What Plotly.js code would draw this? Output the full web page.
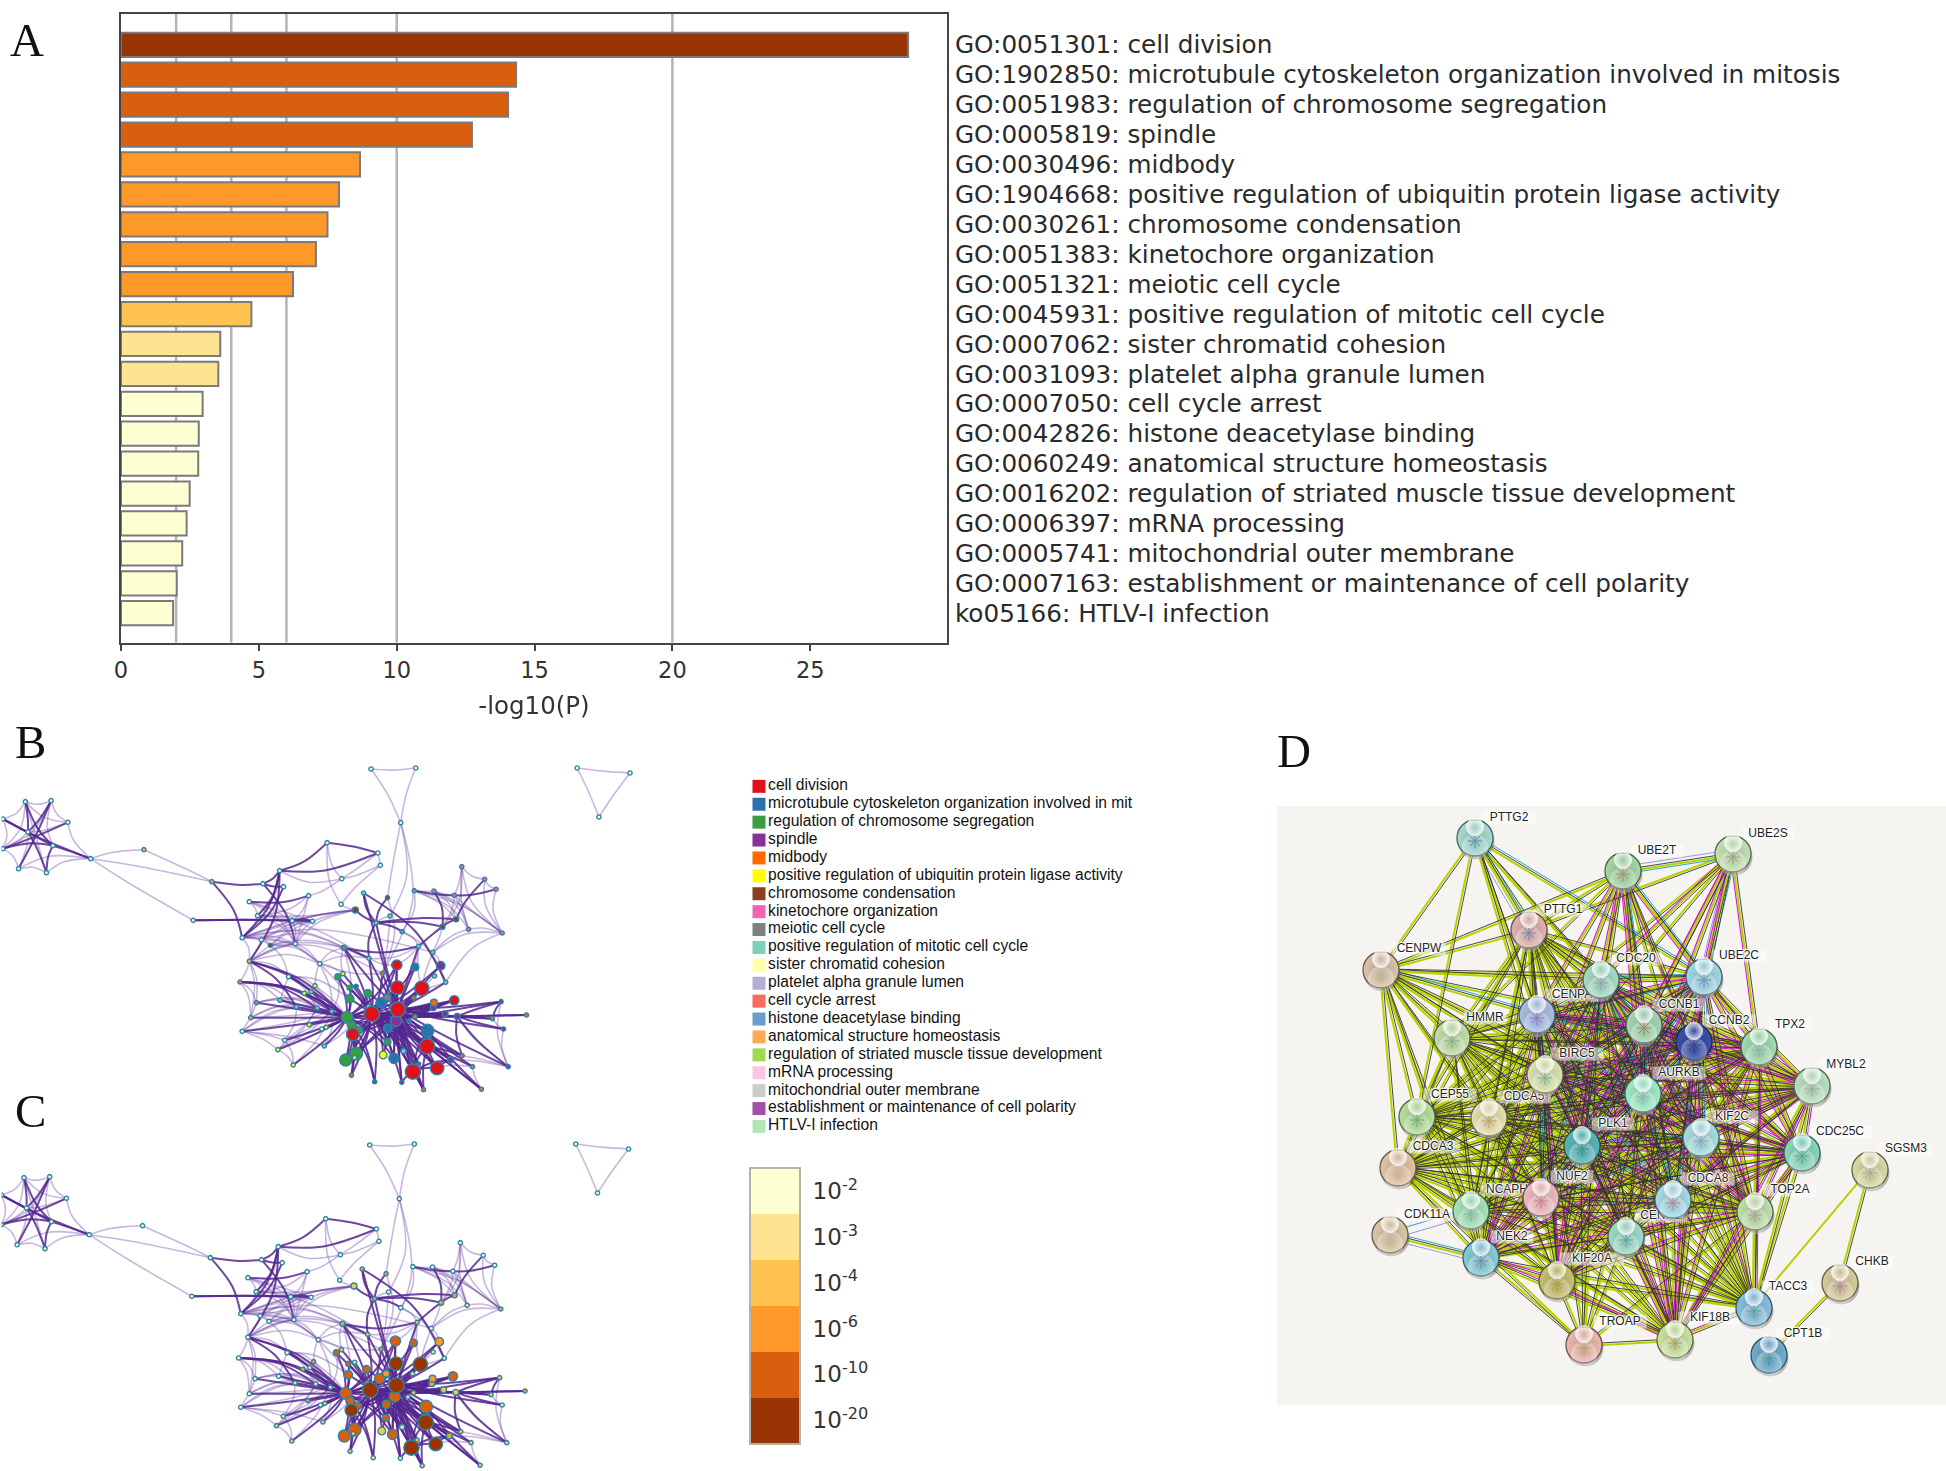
<!DOCTYPE html>
<html><head><meta charset="utf-8">
<script src="https://cdn.plot.ly/plotly-3.0.1.min.js"></script>
<style>html,body{margin:0;padding:0;background:#fff}</style></head>
<body><div id="chart" style="width:1946px;height:1471px"></div>
<script>
const W = 1946, H = 1471;

/* ---------- panel A ---------- */
const goLabels = ["GO:0051301: cell division","GO:1902850: microtubule cytoskeleton organization involved in mitosis","GO:0051983: regulation of chromosome segregation","GO:0005819: spindle","GO:0030496: midbody","GO:1904668: positive regulation of ubiquitin protein ligase activity","GO:0030261: chromosome condensation","GO:0051383: kinetochore organization","GO:0051321: meiotic cell cycle","GO:0045931: positive regulation of mitotic cell cycle","GO:0007062: sister chromatid cohesion","GO:0031093: platelet alpha granule lumen","GO:0007050: cell cycle arrest","GO:0042826: histone deacetylase binding","GO:0060249: anatomical structure homeostasis","GO:0016202: regulation of striated muscle tissue development","GO:0006397: mRNA processing","GO:0005741: mitochondrial outer membrane","GO:0007163: establishment or maintenance of cell polarity","ko05166: HTLV-I infection"];
const goValues = [28.55,14.33,14.04,12.73,8.67,7.91,7.49,7.07,6.24,4.73,3.6,3.53,2.96,2.82,2.8,2.49,2.38,2.22,2.02,1.89];
const goBins = [5,4,4,4,3,3,3,3,3,2,1,1,0,0,0,0,0,0,0,0];
const gridValues = [2,4,6,10,20];
const xTicks = [0,5,10,15,20,25];
const binColors = ["#ffffd4","#fee391","#fec44f","#fe9929","#d95f0e","#993404"];
const binLabels = ["10<sup>-2</sup>","10<sup>-3</sup>","10<sup>-4</sup>","10<sup>-6</sup>","10<sup>-10</sup>","10<sup>-20</sup>"];

/* ---------- panels B and C: enrichment network ---------- */
const termNames = ["cell division","microtubule cytoskeleton organization involved in mit","regulation of chromosome segregation","spindle","midbody","positive regulation of ubiquitin protein ligase activity","chromosome condensation","kinetochore organization","meiotic cell cycle","positive regulation of mitotic cell cycle","sister chromatid cohesion","platelet alpha granule lumen","cell cycle arrest","histone deacetylase binding","anatomical structure homeostasis","regulation of striated muscle tissue development","mRNA processing","mitochondrial outer membrane","establishment or maintenance of cell polarity","HTLV-I infection"];
const termColors = ["#e3101c","#2e6fae","#3a9d3f","#84329a","#ff6a00","#ffff00","#8c3f1e","#f462b4","#808080","#7fcdbb","#ffffa8","#b2addb","#fb6a5f","#6a9fcc","#fdaa55","#a0d84f","#fcc5e0","#cccccc","#a050a8","#b5e5b5","#f5fbe6"];
const netX = [71,143,190,148,130,52,78,8,8,254,403,593,541,1039,1164,1122,1616,1764,1677,916,1058,1065,957,783,736,794,864,698,721,818,875,678,732,757,827,955,995,1018,1085,1092,1053,1126,963,1033,1172,1212,1293,1357,1389,1160,1215,1272,1277,1239,1312,1406,698,672,895,808,718,784,702,678,830,888,929,882,852,871,866,901,913,797,778,821,908,946,960,979,997,979,1030,1032,972,984,1005,988,968,997,993,984,1049,1085,1073,1103,1130,1125,1172,1186,1156,1224,1196,1197,1262,1294,1323,1348,1423,1410,1379,1474,1403,1280,1246,1213,1215,1272,1162,1146,1109,1086,1114,1041,1067,1085,1159,1113,1181,1111,1162,1234,1217,1248,1071];
const netY = [215,212,277,347,428,416,306,267,356,386,359,455,571,117,114,278,114,129,261,338,369,406,446,422,461,470,497,515,557,572,574,623,629,646,641,523,540,489,503,558,578,605,653,685,649,667,410,448,478,482,483,496,568,590,598,609,694,756,701,740,818,811,863,904,831,834,844,767,790,785,884,897,892,931,959,1005,948,740,731,773,769,806,790,830,862,884,900,913,990,971,983,1036,1055,936,975,985,963,1057,1002,1079,1025,1014,949,902,990,977,1010,1078,1010,897,866,855,815,859,851,833,818,811,860,873,872,895,838,852,818,803,803,773,775,705,711,707,738,757,730];
const netRadius = [5,5,5,5,5,5,5,5,5,5,5,5,5,5,5,5,5,5,5,5,5,5,5,5,5,5,5,5,5,5,5,5,5,5,5,5,7,5,5,5,5,5,6,5,5,5,5,5,5,5,5,5,6,6,5,5,5,5,5,5,5,5,5,5,5,5,5,5,5,5,5,5,5,5,5,5,5,7,5,6,5,10,9,5,14,10,9,15,14,15,4,5,5,8,9,12,6,5,5,5,18,16,18,15,7,5,5,5,5,5,5,5,5,7,7,7,8,11,5,5,13,10,18,18,12,8,5,16,17,12,9,10,5,5,5];
const netTerm = [20,20,20,20,20,20,20,20,20,20,14,14,10,20,20,20,20,20,20,20,20,20,20,20,20,20,20,20,20,20,20,20,20,6,20,20,6,9,6,9,9,13,8,9,9,9,7,7,7,7,7,7,6,6,7,7,14,12,20,20,12,9,14,20,9,9,9,5,5,9,5,20,5,20,5,5,9,2,5,2,1,2,2,5,2,2,2,0,2,2,5,4,1,2,5,1,9,3,1,4,0,0,0,1,3,4,4,4,3,3,4,4,3,3,3,3,4,0,4,1,3,1,0,0,1,8,4,0,0,0,1,3,9,9,4];
const netBin = [0,0,0,0,0,0,0,0,0,0,0,0,0,0,0,0,0,0,0,0,0,0,0,0,0,0,0,0,0,0,0,0,0,0,0,0,2,3,3,0,3,0,3,2,2,0,0,0,0,0,0,0,3,3,1,3,0,0,0,0,0,0,0,0,1,1,1,3,3,1,3,0,2,1,2,2,2,4,2,4,1,4,4,3,4,4,4,5,4,4,2,2,1,4,2,4,1,1,2,2,5,5,5,4,3,2,2,2,2,1,2,3,2,2,2,3,3,4,2,1,4,4,5,5,4,3,1,5,5,4,4,3,1,1,3];
const strongLinks = [
 [7,[3,9]],[8,[2,3]],[1,[5,6]],[3,[9,4]],[0,[6,3]],[6,[4]],[12,[29,30]],[11,[31,24]],[24,[23,25,34]],[23,[19,56,31,20,28]],[19,[20]],[27,[26]],[25,[31]],[29,[30]],
 [36,[40]],[37,[40,133]],[38,[40]],[40,[53,52,41]],[42,[43,44]],[43,[40]],[44,[53]],[52,[47,53]],[48,[51]],[49,[51]],[50,[53]],
 [56,[64,66]],[57,[65,66]],[59,[84]],[61,[84]],[63,[84]],[64,[84]],[65,[84]],[66,[84]],[68,[84]],[70,[84]],[72,[84]],[73,[84]],[74,[84]],[75,[84]],[76,[84]],[60,[84]],[56,[84]],[57,[84]],[62,[84]],
 [123,[77,78,79,80,81,82,83,84,85,86,87,88,89,90,91,92,93,94,95,96,97,98,99,100,101,102,103,104,113,114,115,116,117,118,119,120,121,122,124,125,127,128,129,130,131,134,42,43]],
 [122,[82,84,85,86,87,89,93,94,95,96,97,98,99,100,101,102,103,104,105,106,108,109,110,112,113,114,115,116,117,118,126,127,128,129,130,131,133,37,44,134,40,42,43]],
 [120,[84,87,89,93,95,124,100,102,101,99,98,97,104,105,107,117,128,129]],[100,[97,98,99,102,103,104,101]],[102,[99,101,103,105,106,107]],[121,[100,102]],
 [84,[85,86,87,88,89,91,92,77,79,81,82,93,95,124,125,127,129]],[87,[91,88,89,92]],[113,[111,112,109,108,110,105]],[118,[111,112,117,113,114,115,116]],[103,[107]],[112,[110]],[101,[104]]
];
const thinLinks = [
 [0,[1,7,2,8,4]],[1,[2,3,8]],[2,[9,6]],[9,[4,5,10,12,11]],[4,[5]],[5,[8,6]],[8,[7,6]],[7,[6]],[10,[11]],
 [13,[14,15]],[14,[15]],[15,[38,39,134]],[16,[17,18]],[17,[18]],
 [19,[22,35]],[20,[22]],[21,[22,35,20]],[22,[23,26]],[26,[28,34,29]],[28,[31,23,29,30,34]],[31,[32,29,58,45,30,34,33,36,42]],[32,[33,42,30]],[29,[43,34]],[30,[33,36,34]],[36,[28,33,34,32,35,29]],[33,[58,43,34,134]],[27,[28,30,29,34]],[34,[56,58]],
 [38,[134]],[39,[40,134]],[41,[44,133,49]],[43,[44,58,129]],[45,[53,55,54,128,131]],[46,[47,51,54,55,53]],[47,[48,55]],[49,[50,52,54,55]],[50,[51,52,54,55]],[51,[53,54,55]],[54,[55]],[48,[55]],[55,[133]],
 [56,[57,60,58,62,33,32,31,34,42]],[57,[60,62,64]],[58,[66,78,81,67,32,42,134]],[59,[81,61,67,56,33,65,66]],[60,[62,64,65,66]],[61,[64,57,65,66]],[62,[66,64,65]],[63,[62,73,65,76,64,66]],[67,[84,66]],[68,[66]],[69,[84,66]],[70,[66]],[71,[84]],[73,[75,66,65,64]],[74,[73,75,63,66,65]],[75,[66]],[76,[85,66]],[77,[66]],[42,[78,84]],
 [104,[105,108]],[105,[108]],[106,[107]],[101,[106]],[108,[109,112,113]],[109,[110]],[128,[133,132,44]],[131,[133]],[130,[44]],[115,[117]],[44,[129]]
];
const clusterHubX = [100,1100,1690,850,1290,1100];
const clusterHubY = [320,170,170,560,520,870];
const clusterPull = [1,0.3,0.1,1,1,0.8];

/* ---------- panel D: protein interaction network ---------- */
const geneNames = ["PTTG2","UBE2T","UBE2S","PTTG1","CENPW","CDC20","UBE2C","CENPA","CCNB1","CCNB2","TPX2","MYBL2","HMMR","BIRC5","AURKB","CEP55","CDCA5","PLK1","KIF2C","CDC25C","SGSM3","CDCA3","NUF2","CDCA8","TOP2A","NCAPH","CDK11A","NEK2","CENPE","KIF20A","TACC3","CHKB","CPT1B","TROAP","KIF18B"];
const geneX = [1475,1623,1733,1529,1381,1601,1704,1537,1644,1694,1759,1812,1452,1545,1643,1417,1489,1582,1701,1802,1870,1398,1541,1673,1755,1471,1390,1481,1626,1557,1754,1840,1769,1584,1675];
const geneY = [838,871,854,930,970,980,977,1015,1025,1042,1047,1086,1038,1075,1094,1117,1118,1146,1138,1153,1170,1168,1198,1200,1212,1211,1235,1258,1237,1281,1308,1283,1355,1345,1340];
const geneLabelX = [1509,1657,1768,1563,1419,1636,1739,1572,1679,1729,1790,1846,1485,1577,1679,1450,1524,1613,1732,1840,1906,1433,1572,1708,1790,1507,1427,1512,1661,1592,1788,1872,1803,1620,1710];
const geneLabelY = [818,851,834,910,949,959,956,995,1005,1021,1025,1065,1018,1054,1073,1095,1097,1124,1117,1132,1149,1147,1177,1179,1190,1190,1215,1237,1216,1259,1287,1262,1334,1322,1318];
const geneColors = ["#a8dcd2","#a5d8a8","#c4e4b4","#e0b4b0","#dcc4a8","#a8dcc4","#a0d8e4","#a8c0e4","#a4d8b4","#3a50a8","#a4dcb0","#bce4c0","#c4e0ac","#dce4b0","#a0ecc8","#b8e0a0","#e8e0b0","#58b8b8","#a8e0e0","#88d8c0","#d8dca4","#e4c4a4","#f0bcc0","#a8dce8","#c0e0ac","#a8e4bc","#dcc8a8","#88ccd8","#a0dcc8","#c8c070","#88c0e0","#d8cc9c","#70aed0","#ecb8ac","#cce4a0"];
const geneGlyphs = ["#2a70a0","#b06a3a","#9a7a55","#3a6ab0","rgba(0,0,0,0)","#7a90b0","#3a70c0","#7a50c8","#b0562e","#1a3090","#70b0a0","#9090a0","#60a060","#40a090","#80a0b0","#30a050","#b08020","#208070","#8080c0","#309070","#b090a0","rgba(0,0,0,0)","#c06080","#c05070","#a08090","#60b080","rgba(0,0,0,0)","#6060b0","#2090a0","#b09010","#20a070","#b060a0","#309080","#a0a040","#c07030"];
const coreGenes = ["PTTG1","CDC20","UBE2C","CENPA","CCNB1","CCNB2","TPX2","MYBL2","HMMR","BIRC5","AURKB","CEP55","CDCA5","PLK1","KIF2C","CDC25C","CDCA3","NUF2","CDCA8","TOP2A","NCAPH","NEK2","CENPE","KIF20A","TACC3","KIF18B"];
const mitoticGenes = ["CDC20","UBE2C","CCNB1","CCNB2","AURKB","PLK1","KIF2C","TOP2A","TPX2","CDC25C","KIF20A","KIF18B","MYBL2","NEK2","CENPA","BIRC5"];
const cyanGenes = ["CDC20","UBE2C","CCNB1","CCNB2","AURKB","PLK1","BIRC5","CDCA8","KIF2C","CENPA","NUF2"];
const outerLinks = [
 ["PTTG2",["PTTG1","CENPW","CDC20","UBE2C","CENPA","CEP55","CCNB1","BIRC5","PLK1","AURKB"]],
 ["CENPW",["UBE2T","PTTG1","CDC20","UBE2C","CENPA","CCNB1","HMMR","BIRC5","AURKB","PLK1","CEP55","CDCA5","CDCA3","NUF2","KIF2C","NCAPH","NEK2","TOP2A"]],
 ["UBE2T",["UBE2S","PTTG1","CDC20","UBE2C","CCNB1","CCNB2","AURKB","PLK1","BIRC5","CENPA","HMMR","CDCA8","KIF2C","TOP2A","TPX2"]],
 ["UBE2S",["CDC20","UBE2C","CCNB1","CCNB2","AURKB","PLK1","BIRC5","TPX2","CENPA","PTTG1"]],
 ["TROAP",["KIF18B","KIF20A","NEK2","CDCA3","PLK1","CENPE","BIRC5","CDC20","TOP2A","AURKB"]],
 ["CDK11A",["NEK2"]],["SGSM3",["CHKB"]],["CHKB",["CPT1B"]]
];
const magentaOuter = [["UBE2S",["CDC20","UBE2C","CCNB1","CCNB2","AURKB","TPX2","PLK1"]],["UBE2T",["CDC20","UBE2C","CCNB1","CCNB2","AURKB","PLK1","BIRC5","CENPA"]],["TACC3",["KIF18B","KIF2C","TOP2A"]]];
const cyanOuter = [["UBE2S",["UBE2T","UBE2C"]],["PTTG2",["PTTG1","UBE2C"]],["UBE2T",["UBE2C","CCNB1"]],["CDK11A",["NEK2","NCAPH"]],["CENPW",["CENPA"]]];
const lilacOuter = [["UBE2S",["UBE2T","UBE2C"]],["PTTG2",["PTTG1"]],["CDK11A",["NEK2","NCAPH"]]];
const greenOnly = [["SGSM3",["TACC3"]]];

/* ---------- helpers ---------- */
const xd = (a,b)=>[a/W,b/W];
const yd = (a,b)=>[1-b/H,1-a/H];
const hidden = {visible:false,showgrid:false,zeroline:false,fixedrange:true};
const flat = l => l.flatMap(([a,bs])=>bs.map(b=>[a,b]));
function curved(links, k){
  const x=[],y=[];
  for(const [a,b] of flat(links)){
    const mx=(netX[a]+netX[b])/2, my=(netY[a]+netY[b])/2, L=Math.hypot(netX[b]-netX[a],netY[b]-netY[a]);
    let hub=0, best=1e12;
    clusterHubX.forEach((hx,i)=>{const d=Math.hypot(hx-mx,clusterHubY[i]-my); if(d<best){best=d;hub=i;}});
    const pull=Math.min(k*L*clusterPull[hub],best*0.8)/(best||1);
    x.push(netX[a], mx+(clusterHubX[hub]-mx)*pull, netX[b], null);
    y.push(netY[a], my+(clusterHubY[hub]-my)*pull, netY[b], null);
  }
  return {x,y};
}
function network(xa,ya,colors){
  const thin=curved(thinLinks,0.13), strong=curved(strongLinks,0.1);
  const base={type:'scatter',mode:'lines',xaxis:xa,yaxis:ya,hoverinfo:'skip',showlegend:false};
  return [
    Object.assign({},base,thin,{line:{color:'rgba(112,78,170,0.4)',width:1.6,shape:'spline'}}),
    Object.assign({},base,strong,{line:{color:'rgba(84,39,143,0.85)',width:2,shape:'spline'}}),
    {type:'scatter',mode:'markers',xaxis:xa,yaxis:ya,x:netX,y:netY,hoverinfo:'skip',showlegend:false,
     marker:{color:colors,size:netRadius.map(r=>Math.max(r*0.85,4.2)),line:{color:'#2a86a8',width:1.4},opacity:1}}
  ];
}
const idx = n => geneNames.indexOf(n);
const clique = g => g.flatMap((a,i)=>g.slice(i+1).map(b=>[a,b]));
function strand(pairs, offset, color, width){
  const x=[],y=[];
  for(const [p,q] of pairs){
    const a=idx(p), b=idx(q), dx=geneX[b]-geneX[a], dy=geneY[b]-geneY[a], L=Math.hypot(dx,dy)||1;
    const ox=-dy/L*offset, oy=dx/L*offset;
    x.push(geneX[a]+ox,geneX[b]+ox,null); y.push(geneY[a]+oy,geneY[b]+oy,null);
  }
  return {type:'scatter',mode:'lines',xaxis:'x4',yaxis:'y4',x,y,hoverinfo:'skip',showlegend:false,line:{color,width}};
}
function shade(hex,f){
  const n=parseInt(hex.slice(1),16),c=[n>>16,(n>>8)&255,n&255].map(v=>Math.round(v*f));
  return `rgb(${c[0]},${c[1]},${c[2]})`;
}
const corePairs = clique(coreGenes);
const outerPairs = flat(outerLinks);

/* ---------- traces ---------- */
const traces = [
  {type:'bar',orientation:'h',x:goValues,y:goLabels,width:0.81,hoverinfo:'skip',showlegend:false,
   marker:{color:goBins.map(b=>binColors[b]),line:{color:'#7a7a7a',width:2}}},
  ...network('x2','y2',netTerm.map(t=>termColors[t])),
  ...network('x3','y3',netBin.map(b=>binColors[b])),
  strand(corePairs.concat(outerPairs,flat(greenOnly)),1.1,'#b8d200',2),
  strand(flat(lilacOuter),4.4,'#9a96ee',1),
  strand(clique(cyanGenes).concat(flat(cyanOuter)),-3,'#22aacc',1),
  strand(clique(mitoticGenes).concat(flat(magentaOuter)),2.9,'#d012cc',1.05),
  strand(corePairs.concat(outerPairs),-1.1,'#333',0.9),
  {type:'scatter',mode:'markers',xaxis:'x4',yaxis:'y4',x:geneLabelX,y:geneLabelY,hoverinfo:'skip',showlegend:false,
   marker:{symbol:'line-ew',size:geneNames.map(n=>n.length*7.6),color:'rgba(255,255,255,0.72)',line:{color:'rgba(255,255,255,0.72)',width:13}}},
  {type:'scatter',mode:'text',xaxis:'x4',yaxis:'y4',x:geneLabelX,y:geneLabelY,text:geneNames,hoverinfo:'skip',showlegend:false,
   textposition:'middle center',textfont:{family:'Liberation Sans',size:12,color:'#222',shadow:'1px 0 1px #fff, -1px 0 1px #fff, 0 1px 1px #fff, 0 -1px 1px #fff, 0 0 3px #fff'}},
  {type:'scatter',mode:'markers',xaxis:'x4',yaxis:'y4',x:geneX.map(v=>v+1),y:geneY.map(v=>v+3),hoverinfo:'skip',showlegend:false,
   marker:{size:37,color:'rgba(50,50,50,0.32)',line:{width:0}}},
  {type:'scatter',mode:'markers',xaxis:'x4',yaxis:'y4',x:geneX,y:geneY,hoverinfo:'skip',showlegend:false,
   marker:{size:36,color:geneColors,gradient:{type:'radial',color:geneColors.map(c=>shade(c,0.82))},line:{color:geneColors.map(c=>shade(c,0.45)),width:1.3}}},
  {type:'scatter',mode:'markers',xaxis:'x4',yaxis:'y4',x:geneX,y:geneY.map(v=>v+9),hoverinfo:'skip',showlegend:false,
   marker:{size:26,color:'rgba(255,255,255,0.35)',gradient:{type:'radial',color:'rgba(255,255,255,0)'},line:{width:0}}},
  {type:'scatter',mode:'markers',xaxis:'x4',yaxis:'y4',x:geneX,y:geneY.map(v=>v+3),hoverinfo:'skip',showlegend:false,opacity:0.6,
   marker:{size:12,symbol:'asterisk-open',color:geneGlyphs,line:{color:geneGlyphs,width:1}}},
  {type:'scatter',mode:'markers',xaxis:'x4',yaxis:'y4',x:geneX,y:geneY.map(v=>v-11),hoverinfo:'skip',showlegend:false,
   marker:{size:18,color:'rgba(255,255,255,0.85)',gradient:{type:'radial',color:'rgba(255,255,255,0)'},line:{width:0}}},
  {type:'heatmap',xaxis:'x5',yaxis:'y5',x:[0],y:binLabels,z:binColors.map((c,i)=>[i]),zmin:0,zmax:5,showscale:false,hoverinfo:'skip',
   colorscale:binColors.map((c,i)=>[i/5,c])},
  {type:'scatter',mode:'markers+text',xaxis:'x6',yaxis:'y6',x:termNames.map(()=>0),y:termNames,text:termNames,hoverinfo:'skip',showlegend:false,
   textposition:'middle right',cliponaxis:false,
   marker:{symbol:'square',size:13,color:termColors.slice(0,20),line:{width:0}},
   textfont:{family:'Liberation Sans',size:15.6,color:'#111'}}
];

/* ---------- layout ---------- */
const panelLetter=(t,x,y)=>({text:t,xref:'paper',yref:'paper',x:x/W,y:1-y/H,xanchor:'center',yanchor:'middle',showarrow:false,
  font:{family:'Liberation Serif',size:47,color:'#111'}});
const layout = {
  width:W,height:H,margin:{l:0,r:0,t:0,b:0},paper_bgcolor:'#fff',plot_bgcolor:'rgba(0,0,0,0)',showlegend:false,
  font:{family:'DejaVu Sans',color:'#333'},
  xaxis:{domain:xd(121,947),range:[0,29.96],tickmode:'array',tickvals:xTicks,ticks:'outside',ticklen:6,tickwidth:2,tickcolor:'#444',
    showgrid:false,zeroline:false,showline:true,linecolor:'#444',linewidth:2,mirror:true,fixedrange:true,
    tickfont:{family:'DejaVu Sans',size:22.5,color:'#333'},
    title:{text:'-log10(P)',font:{family:'DejaVu Sans',size:24.5,color:'#333'},standoff:15},anchor:'y'},
  yaxis:{domain:yd(14,642.5),range:[19.98,-1.03],type:'category',side:'right',ticks:'',showgrid:false,zeroline:false,showline:true,
    linecolor:'#444',linewidth:2,mirror:true,fixedrange:true,ticklabelstandoff:1,automargin:false,dtick:1,
    tickfont:{family:'DejaVu Sans',size:24.7,color:'#2a2a2a'},anchor:'x',categoryorder:'array',categoryarray:goLabels},
  xaxis2:Object.assign({},hidden,{domain:xd(1.5,660),range:[4.2,1848],anchor:'y2'}),
  yaxis2:Object.assign({},hidden,{domain:yd(730,1100),range:[1110,0],anchor:'x2'}),
  xaxis3:Object.assign({},hidden,{domain:xd(1.5,660),range:[8.1,1852],anchor:'y3'}),
  yaxis3:Object.assign({},hidden,{domain:yd(1106,1471),range:[1095,0],anchor:'x3'}),
  xaxis4:Object.assign({},hidden,{domain:xd(1277,1946),range:[1277,1946],anchor:'y4'}),
  yaxis4:Object.assign({},hidden,{domain:yd(806,1405),range:[1405,806],anchor:'x4'}),
  xaxis5:{domain:xd(751,799),range:[-0.5,0.5],anchor:'y5',showticklabels:false,ticks:'',showgrid:false,zeroline:false,showline:true,linecolor:'#b4b4a8',linewidth:2,mirror:true,fixedrange:true},
  yaxis5:{domain:yd(1168.5,1443),type:'category',range:[5.5,-0.5],anchor:'x5',side:'right',ticks:'',ticklabelstandoff:7,showgrid:false,zeroline:false,showline:true,linecolor:'#b4b4a8',linewidth:2,mirror:true,fixedrange:true,
    tickfont:{family:'DejaVu Sans',size:23,color:'#333'}},
  xaxis6:Object.assign({},hidden,{domain:xd(753,1190),range:[-0.5,36],anchor:'y6'}),
  yaxis6:Object.assign({},hidden,{domain:yd(777.4,1135.4),type:'category',range:[19.5,-0.5],anchor:'x6',categoryorder:'array',categoryarray:termNames}),
  shapes:[
    ...gridValues.map(v=>({type:'line',xref:'x',yref:'y domain',x0:v,x1:v,y0:0,y1:1,layer:'below',line:{color:'#b4b4b4',width:2.5}})),
    {type:'rect',xref:'x4 domain',yref:'y4 domain',x0:0,x1:1,y0:0,y1:1,layer:'below',line:{width:0},fillcolor:'#f5f4f1'}
  ],
  annotations:[panelLetter('A',27,40),panelLetter('B',30,742),panelLetter('C',30,1111),panelLetter('D',1294,751)]
};
Plotly.newPlot('chart',traces,layout,{staticPlot:true,displayModeBar:false});
</script></body></html>
